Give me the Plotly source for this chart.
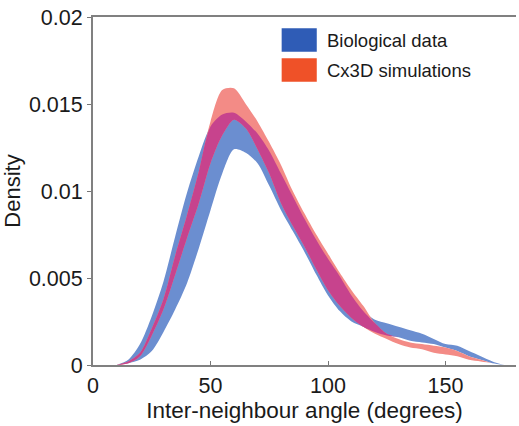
import plotly.graph_objects as go

# Angle grid (degrees)
angle = [10, 15, 20, 25, 30, 35, 40, 45, 50, 55, 60, 65, 70, 75, 80, 85, 90, 95,
         100, 105, 110, 115, 120, 125, 130, 135, 140, 145, 150, 155, 160, 165, 170, 175]

# Biological data band (lower / upper density)
bio_lower = [0.0, 0.0001, 0.0003, 0.0008, 0.0019, 0.0032, 0.0047, 0.0067, 0.0089, 0.0110,
             0.0124, 0.0122, 0.0116, 0.0103, 0.0089, 0.0077, 0.0065, 0.0052, 0.0040, 0.0031,
             0.0025, 0.0022, 0.0019, 0.0017, 0.0016, 0.0014, 0.0013, 0.0012, 0.0010, 0.0008,
             0.0005, 0.0003, 0.0001, 0.0]
bio_upper = [0.0, 0.0003, 0.0012, 0.0028, 0.0048, 0.0074, 0.0099, 0.0120, 0.0137, 0.0144,
             0.0145, 0.0140, 0.0133, 0.0123, 0.0110, 0.0097, 0.0084, 0.0072, 0.0061, 0.0051,
             0.0040, 0.0031, 0.0026, 0.0024, 0.0022, 0.0020, 0.0018, 0.0015, 0.0012, 0.0011,
             0.0008, 0.0005, 0.0002, 0.0]

# Cx3D simulations band (lower / upper density)
sim_lower = [0.0, 0.0001, 0.0005, 0.0017, 0.0032, 0.0052, 0.0073, 0.0093, 0.0116, 0.0132,
             0.0141, 0.0136, 0.0124, 0.0110, 0.0093, 0.0080, 0.0068, 0.0055, 0.0043, 0.0034,
             0.0027, 0.0022, 0.0018, 0.0015, 0.0012, 0.0010, 0.0009, 0.0007, 0.0006, 0.0005,
             0.0003, 0.0002, 0.0001, 0.0]
sim_upper = [0.0, 0.0002, 0.0007, 0.0021, 0.0038, 0.0063, 0.0086, 0.0111, 0.0140, 0.0158,
             0.0159, 0.0150, 0.0140, 0.0128, 0.0115, 0.0100, 0.0087, 0.0075, 0.0064, 0.0053,
             0.0043, 0.0034, 0.0024, 0.0018, 0.0015, 0.0013, 0.0012, 0.0011, 0.0010, 0.0008,
             0.0005, 0.0003, 0.0001, 0.0]

series_names = ["Biological data", "Cx3D simulations"]
x_ticks = [0, 50, 100, 150]
y_ticks = [0, 0.005, 0.01, 0.015, 0.02]
y_tick_text = ["0", "0.005", "0.01", "0.015", "0.02"]

BLUE_BAND = "#6b8ed0"
RED_BAND = "#f38b86"
OVERLAP = "#c7438d"
BLUE_KEY = "#2f5cb6"
RED_KEY = "#ef5128"
FONT = "Liberation Sans, Arial, Helvetica, sans-serif"
TXT = "#1a1a1a"

# overlap of the two bands
ov_lower = [max(a, b) for a, b in zip(bio_lower, sim_lower)]
ov_upper = [max(lo, min(a, b)) for lo, a, b in zip(ov_lower, bio_upper, sim_upper)]

fig = go.Figure()


def band(lower, upper, color, name):
    ln = dict(width=0, shape="spline", smoothing=0.8)
    fig.add_trace(go.Scatter(x=angle, y=lower, mode="lines", line=ln,
                             showlegend=False, hoverinfo="skip"))
    fig.add_trace(go.Scatter(x=angle, y=upper, mode="lines", line=ln,
                             fill="tonexty", fillcolor=color, name=name, showlegend=False, hoverinfo="skip"))


band(bio_lower, bio_upper, BLUE_BAND, series_names[0])
band(sim_lower, sim_upper, RED_BAND, series_names[1])
band(ov_lower, ov_upper, OVERLAP, "overlap")

# legend keys
keys = [(BLUE_KEY, series_names[0], 0.9675, 0.9003), (RED_KEY, series_names[1], 0.8813, 0.8141)]
for color, label, top, bot in keys:
    fig.add_shape(type="rect", xref="paper", yref="paper", x0=0.446, x1=0.529, y0=bot, y1=top,
                  fillcolor=color, line=dict(width=0))
    fig.add_annotation(xref="paper", yref="paper", x=0.5485, y=(top + bot) / 2, text=label,
                       showarrow=False, xanchor="left", yanchor="middle",
                       font=dict(family=FONT, size=18.5, color=TXT))

fig.update_layout(
    width=519, height=426,
    margin=dict(l=93, r=3, t=17, b=61, autoexpand=False),
    plot_bgcolor="white", paper_bgcolor="white",
    showlegend=False,
    font=dict(family=FONT, size=21, color=TXT),
)
fig.update_xaxes(
    range=[0, 180], tickvals=x_ticks, ticks="inside", ticklen=4, tickcolor="#777777",
    showline=True, linecolor="#808080", linewidth=2, mirror=True,
    showgrid=False, zeroline=False, automargin=False,
    tickfont=dict(family=FONT, size=21.5, color=TXT),
    title=dict(text="Inter-neighbour angle (degrees)", font=dict(family=FONT, size=22.5, color=TXT), standoff=4),
)
fig.update_yaxes(
    range=[0, 0.02], tickvals=y_ticks, ticktext=y_tick_text, ticks="outside", ticklen=4, tickcolor="#777777",
    showline=True, linecolor="#808080", linewidth=2, mirror=False,
    showgrid=False, zeroline=False, automargin=False,
    tickfont=dict(family=FONT, size=21.5, color=TXT),
    title=dict(text="Density", font=dict(family=FONT, size=22, color=TXT), standoff=6),
)

fig.write_html("out.html", config={"displayModeBar": False},
               post_script="document.body.style.margin='0';document.body.style.overflow='hidden';")
